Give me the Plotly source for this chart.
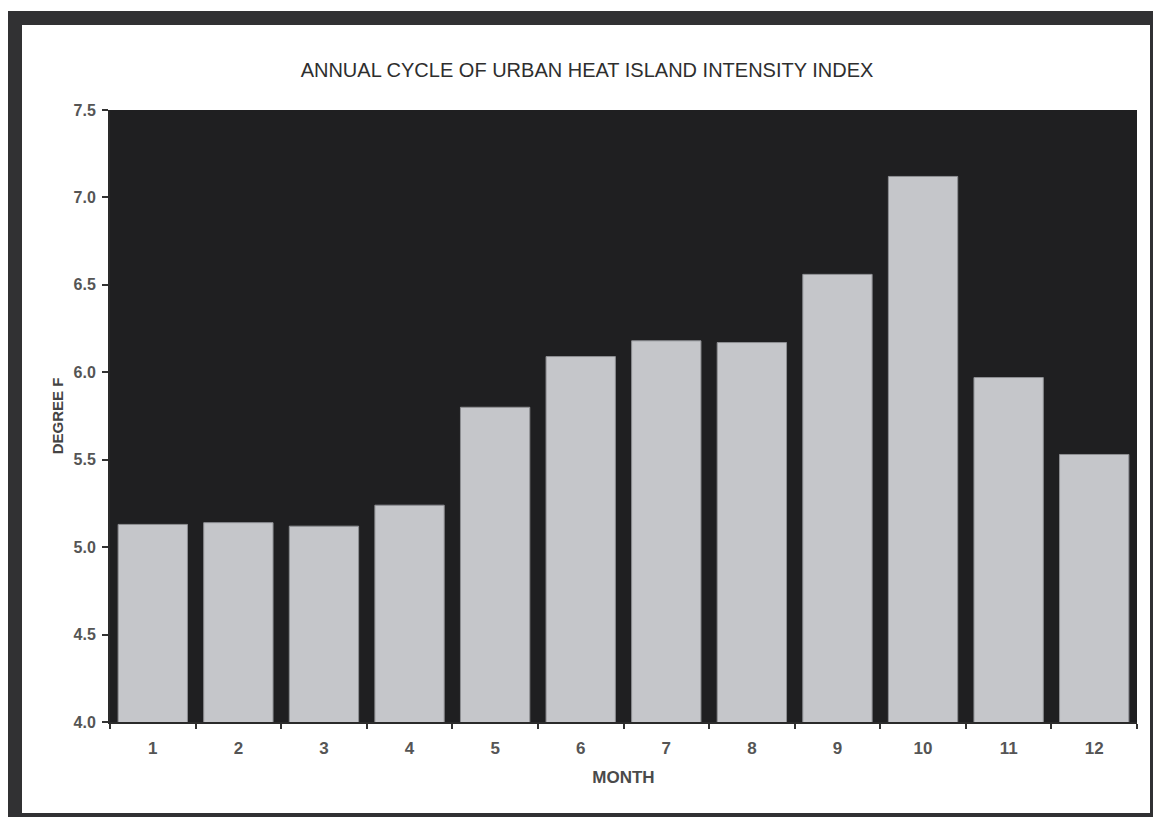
import plotly.graph_objects as go

# Monthly urban heat island intensity index (degrees F)
months = ["1", "2", "3", "4", "5", "6", "7", "8", "9", "10", "11", "12"]
intensity = [5.13, 5.14, 5.12, 5.24, 5.80, 6.09, 6.18, 6.17, 6.56, 7.12, 5.97, 5.53]
y_ticks = [4.0, 4.5, 5.0, 5.5, 6.0, 6.5, 7.0, 7.5]

W, H = 1153, 817
L, R, T, B = 110, 16, 110, 95
pw, ph = W - L - R, H - T - B


def px_x(p):
    return (p - L) / pw


def px_y(p):
    return (H - B - p) / ph


fig = go.Figure(
    go.Bar(
        x=months,
        y=intensity,
        marker=dict(color="#c5c6ca", line=dict(color="#8e8f93", width=1)),
        hoverinfo="x+y",
    )
)

frame_col = "#313133"
frame = [
    (8, 11, 1153, 25),    # top band
    (8, 11, 22, 817),     # left band
    (8, 813, 1153, 817),  # bottom band
    (1150, 11, 1153, 817),  # right edge
]
shapes = [
    dict(type="rect", xref="paper", yref="paper",
         x0=px_x(x0), x1=px_x(x1), y0=px_y(y1), y1=px_y(y0),
         fillcolor=frame_col, line=dict(width=0), layer="above")
    for x0, y0, x1, y1 in frame
]

fig.update_layout(
    width=W,
    height=H,
    margin=dict(l=L, r=R, t=T, b=B, pad=0),
    paper_bgcolor="white",
    plot_bgcolor="#1f1f21",
    bargap=0.19,
    showlegend=False,
    font=dict(family="Liberation Sans, Arial, sans-serif", color="#3a3a3a"),
    title=dict(
        text="ANNUAL CYCLE OF URBAN HEAT ISLAND INTENSITY INDEX",
        x=587 / W,
        xanchor="center",
        xref="container",
        y=1 - 70 / H,
        yanchor="middle",
        font=dict(size=20, color="#2e2e2e"),
    ),
    xaxis=dict(
        type="category",
        tickson="boundaries",
        ticks="outside",
        ticklen=5,
        tickwidth=1.5,
        tickcolor="#333333",
        ticklabelstandoff=10,
        showline=True,
        linecolor="#2a2a2a",
        linewidth=2,
        showgrid=False,
        tickfont=dict(size=17, color="#555555", weight="bold"),
        title=dict(text="MONTH", font=dict(size=17, color="#4a4a4a", weight="bold"), standoff=14),
    ),
    yaxis=dict(
        range=[4.0, 7.5],
        tickvals=y_ticks,
        ticktext=[f"{v:.1f}" for v in y_ticks],
        ticks="outside",
        ticklen=6,
        tickwidth=1.5,
        tickcolor="#333333",
        ticklabelstandoff=3,
        showline=True,
        linecolor="#2a2a2a",
        linewidth=2,
        showgrid=False,
        zeroline=False,
        tickfont=dict(size=16, color="#555555", weight="bold"),
        title=dict(text="DEGREE F", font=dict(size=15, color="#444444", weight="bold"), standoff=6),
    ),
    shapes=shapes,
)

fig.write_html("out.html")
